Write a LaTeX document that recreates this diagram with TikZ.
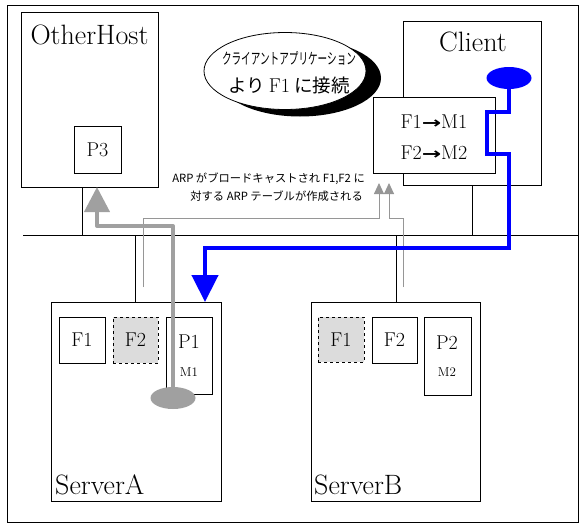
\documentclass[tikz,border=0pt]{standalone}
\usepackage{fontspec}
\usepackage{graphicx}
\newfontfamily\jp{Noto Sans CJK JP}
\newfontfamily\dv{DejaVu Sans}
\usetikzlibrary{arrows.meta,shapes.geometric}
\definecolor{bl}{RGB}{0,0,255}
\definecolor{gr}{RGB}{160,160,160}
\definecolor{thin}{RGB}{150,150,150}
\definecolor{shade}{RGB}{220,220,220}
\newcommand{\tabarrow}{\raisebox{0.5pt}{\scalebox{1.45}[1.0]{\dv\bfseries\fontsize{16}{16}\selectfont →}}}
\tikzset{
  box/.style={draw, line width=1pt, rectangle, inner sep=0pt, outer sep=0pt, anchor=north west, fill=white},
  sbox/.style={draw, line width=0.9pt, rectangle, inner sep=0pt, outer sep=0pt, anchor=north west, fill=white},
  dbox/.style={sbox, dashed, fill=shade},
  lbl/.style={font=\fontsize{28}{28}\selectfont, inner sep=0pt},
  mid/.style={font=\fontsize{20}{20}\selectfont, inner sep=0pt},
  sml/.style={font=\fontsize{13}{13}\selectfont, inner sep=0pt},
  link/.style={line width=1pt},
  bluepath/.style={draw=bl, line width=4.5pt},
  greypath/.style={draw=gr, line width=4pt, line join=round},
  thinpath/.style={draw=thin, line width=0.9pt},
}
\begin{document}
\begin{tikzpicture}[x=1pt,y=-1pt]
\useasboundingbox (0,0) rectangle (586,525);
% outer frame
\node[box, fill=none, minimum width=571pt, minimum height=517pt] (frame) at (7,5) {};
% bus
\coordinate (busL) at (23,235);
\coordinate (busR) at (578,235);
\draw[link] (busL) -- (busR);
% OtherHost
\node[box, minimum width=137pt, minimum height=175pt] (oh) at (21,12) {};
\node[lbl] (ohl) at (89.5,35) {OtherHost};
\node[sbox, minimum width=47pt, minimum height=47pt] (p3) at (74,126) {};
\node[mid] (p3l) at (p3.center) {P3};
\coordinate (ohc) at (82,235);
\draw[link] (ohc |- oh.south) -- (ohc);
% Client
\node[box, minimum width=138pt, minimum height=164pt] (cl) at (403,21) {};
\node[lbl] (cll) at (473,42) {Client};
\coordinate (clc) at (472,235);
\draw[link] (clc |- cl.south) -- (clc);
\node[sbox, minimum width=122pt, minimum height=76pt] (tab) at (373,97) {};
\node[mid] (t1) at (434,122) {F1\tabarrow M1};
\node[mid] (t2) at (434,153) {F2\tabarrow M2};
% bubble
\node[ellipse, fill=black, minimum width=162pt, minimum height=77pt, inner sep=0pt] (bsh) at (300,78) {};
\node[ellipse, draw, line width=0.8pt, fill=white, minimum width=162pt, minimum height=77pt, inner sep=0pt] (bub) at (285,71) {};
\node[inner sep=0pt] (b1) at (289,58) {\scalebox{0.62}[1]{\jp\fontsize{15.5}{15.5}\selectfont クライアントアプリケーション}};
\node[inner sep=0pt] (b2) at (289,85) {\jp\fontsize{18.5}{18.5}\selectfont より {\rmfamily\fontsize{20}{20}\selectfont F1} に接続};
% ARP text
\node[inner sep=0pt, anchor=east] (arp1) at (365,179) {\jp\fontsize{11.3}{11.3}\selectfont ARP がブロードキャストされ F1,F2 に};
\node[inner sep=0pt, anchor=east] (arp2) at (363,196) {\jp\fontsize{11.3}{11.3}\selectfont 対する ARP テーブルが作成される};
% ServerA
\node[box, minimum width=170pt, minimum height=199pt] (sa) at (51,302) {};
\node[lbl, anchor=west] (sal) at (55,485) {ServerA};
\coordinate (sac) at (135,235);
\draw[link] (sac) -- (sac |- sa.north);
\node[sbox, minimum width=46pt, minimum height=46pt] (f1a) at (59,317) {};
\node[mid] at (f1a.center) {F1};
\node[dbox, minimum width=45pt, minimum height=46pt] (f2a) at (113,317) {};
\node[mid] at (f2a.center) {F2};
\node[sbox, minimum width=46pt, minimum height=77pt] (p1) at (166,317) {};
\node[mid] (p1l) at (189,342) {P1};
\node[sml] (m1l) at (189,372) {M1};
% ServerB
\node[box, minimum width=169pt, minimum height=199pt] (sb) at (311,302) {};
\node[lbl, anchor=west] (sbl) at (314,485) {ServerB};
\coordinate (sbc) at (396,235);
\draw[link] (sbc) -- (sbc |- sb.north);
\node[dbox, minimum width=46pt, minimum height=45pt] (f1b) at (318,317) {};
\node[mid] at (f1b.center) {F1};
\node[sbox, minimum width=45pt, minimum height=46pt] (f2b) at (372,317) {};
\node[mid] at (f2b.center) {F2};
\node[sbox, minimum width=47pt, minimum height=78pt] (p2) at (424,317) {};
\node[mid] (p2l) at (447,343) {P2};
\node[sml] (m2l) at (447,372) {M2};
% thin ARP lines
\coordinate (a1s) at (143,287);
\coordinate (a1t) at (379,183);
\coordinate (a2s) at (403,287);
\coordinate (a2t) at (389,183);
\draw[thinpath, -{Triangle[width=10pt,length=11pt]}] (a1s) -- (143,218) -- (379,218) -- (a1t);
\draw[thinpath, -{Triangle[width=10pt,length=11pt]}] (a2s) -- (403,218) -- (389,218) -- (a2t);
% grey path
\coordinate (gx) at (97,226);
\node[ellipse, fill=gr, minimum width=45pt, minimum height=22pt, inner sep=0pt] (ge) at (173,398) {};
\draw[greypath, -{Triangle[width=25pt,length=25pt]}] (ge.center) -- (173,226) -- (gx) -- (gx |- oh.south);
% blue path
\coordinate (bx) at (205,248);
\node[ellipse, fill=bl, minimum width=45pt, minimum height=22pt, inner sep=0pt] (be) at (509,78) {};
\draw[bluepath, -{Triangle[width=26pt,length=27pt]}] (be.center) -- (509,112) -- (487,112) -- (487,154) -- (509,154) -- (509,248) -- (bx) -- (bx |- sa.north);
\end{tikzpicture}
\end{document}
